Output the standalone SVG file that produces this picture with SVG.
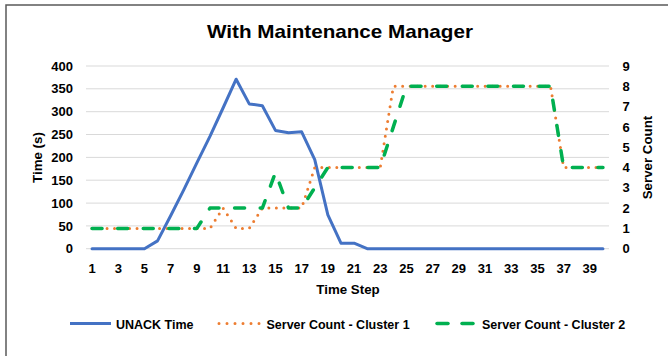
<svg xmlns="http://www.w3.org/2000/svg" width="668" height="356" viewBox="0 0 668 356">
<style>
.t{font-family:"Liberation Sans",Arial,sans-serif;font-weight:bold;fill:#000}
.tick{font-size:13px}
.grid{stroke:#d9d9d9;stroke-width:1}
.blue{fill:none;stroke:#4472C4;stroke-width:3;stroke-linejoin:round;stroke-linecap:round}
.orange{fill:none;stroke:#ED7D31;stroke-width:3;stroke-linecap:round;stroke-linejoin:round;stroke-dasharray:0 7.5}
.green{fill:none;stroke:#00B050;stroke-width:3.5;stroke-linecap:round;stroke-linejoin:round;stroke-dasharray:10 15.6}
</style>
<rect x="0" y="0" width="668" height="356" fill="#fff"/>
<rect x="6" y="5" width="700" height="400" fill="none" stroke="#595959" stroke-width="1.5"/>
<text class="t" x="340" y="38.3" font-size="18.6" text-anchor="middle" textLength="266" lengthAdjust="spacingAndGlyphs">With Maintenance Manager</text>
<g id="grid">
<line class="grid" x1="86" x2="609" y1="66" y2="66"/>
<line class="grid" x1="86" x2="609" y1="88.8" y2="88.8"/>
<line class="grid" x1="86" x2="609" y1="111.7" y2="111.7"/>
<line class="grid" x1="86" x2="609" y1="134.5" y2="134.5"/>
<line class="grid" x1="86" x2="609" y1="157.4" y2="157.4"/>
<line class="grid" x1="86" x2="609" y1="180.2" y2="180.2"/>
<line class="grid" x1="86" x2="609" y1="203.1" y2="203.1"/>
<line class="grid" x1="86" x2="609" y1="225.9" y2="225.9"/>
<line class="grid" x1="86" x2="609" y1="248.7" y2="248.7"/>
</g>
<g id="left-axis" class="t tick" text-anchor="end">
<text x="73" y="70.6">400</text>
<text x="73" y="93.4">350</text>
<text x="73" y="116.3">300</text>
<text x="73" y="139.1">250</text>
<text x="73" y="162">200</text>
<text x="73" y="184.8">150</text>
<text x="73" y="207.7">100</text>
<text x="73" y="230.5">50</text>
<text x="73" y="253.3">0</text>
</g>
<text class="t" font-size="13.3" text-anchor="middle" transform="translate(41.5,157.5) rotate(-90)">Time (s)</text>
<g id="right-axis" class="t tick">
<text x="622.5" y="70.6">9</text>
<text x="622.5" y="90.9">8</text>
<text x="622.5" y="111.2">7</text>
<text x="622.5" y="131.5">6</text>
<text x="622.5" y="151.8">5</text>
<text x="622.5" y="172.1">4</text>
<text x="622.5" y="192.4">3</text>
<text x="622.5" y="212.7">2</text>
<text x="622.5" y="233">1</text>
<text x="622.5" y="253.3">0</text>
</g>
<text class="t" font-size="13.3" text-anchor="middle" transform="translate(651.5,157.5) rotate(-90)">Server Count</text>
<g id="x-axis" class="t tick" text-anchor="middle">
<text x="92.05" y="273">1</text>
<text x="118.25" y="273">3</text>
<text x="144.45" y="273">5</text>
<text x="170.65" y="273">7</text>
<text x="196.85" y="273">9</text>
<text x="223.05" y="273">11</text>
<text x="249.25" y="273">13</text>
<text x="275.45" y="273">15</text>
<text x="301.65" y="273">17</text>
<text x="327.85" y="273">19</text>
<text x="354.05" y="273">21</text>
<text x="380.25" y="273">23</text>
<text x="406.45" y="273">25</text>
<text x="432.65" y="273">27</text>
<text x="458.85" y="273">29</text>
<text x="485.05" y="273">31</text>
<text x="511.25" y="273">33</text>
<text x="537.45" y="273">35</text>
<text x="563.65" y="273">37</text>
<text x="589.85" y="273">39</text>
</g>
<text class="t" font-size="13.3" x="348" y="294" text-anchor="middle">Time Step</text>
<g id="connectors">
<polyline id="unack" class="blue" points="92.05,248.7 144.45,248.7 157.55,240.9 170.65,215.8 183.75,189.8 196.85,162.8 209.95,136.3 223.05,108 236.15,79.2 249.25,103.9 262.35,105.7 275.45,130.4 288.55,132.7 301.65,131.8 314.75,159.6 327.85,214.9 340.95,243.2 354.05,243.2 367.15,248.7 602.95,248.7"/>
<polyline id="cluster1" class="orange" points="92.05,228.4 209.95,228.4 223.05,208.1 236.15,228.4 249.25,228.4 262.35,208.1 301.65,208.1 314.75,167.5 380.25,167.5 393.35,86.3 550.55,86.3 563.65,167.5 602.95,167.5"/>
<polyline id="cluster2" class="green" points="92.05,228.4 196.85,228.4 209.95,208.1 262.35,208.1 275.45,172.6 288.55,208.1 301.65,208.1 314.75,187.8 327.85,167.5 380.25,167.5 393.35,126.9 406.45,86.3 550.55,86.3 563.65,167.5 602.95,167.5"/>
</g>
<g id="legend">
<line x1="70" x2="111" y1="323.5" y2="323.5" stroke="#4472C4" stroke-width="3"/>
<text class="t" font-size="12.5" x="116" y="328.5">UNACK Time</text>
<line x1="219" x2="260" y1="323.5" y2="323.5" stroke="#ED7D31" stroke-width="3" stroke-linecap="round" stroke-dasharray="0 8"/>
<text class="t" font-size="12.5" x="266.5" y="328.5">Server Count - Cluster 1</text>
<line x1="437" x2="448" y1="323.5" y2="323.5" stroke="#00B050" stroke-width="3.5" stroke-linecap="round"/>
<line x1="462" x2="473" y1="323.5" y2="323.5" stroke="#00B050" stroke-width="3.5" stroke-linecap="round"/>
<text class="t" font-size="12.5" x="482" y="328.5">Server Count - Cluster 2</text>
</g>
</svg>
